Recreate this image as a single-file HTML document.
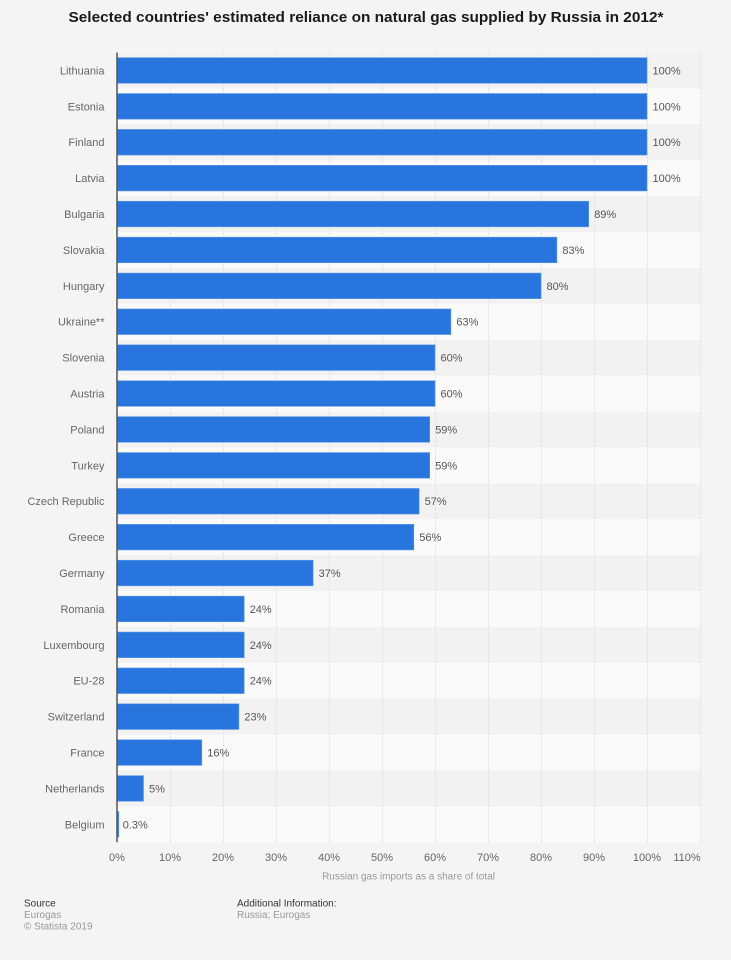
<!DOCTYPE html>
<html><head><meta charset="utf-8"><style>
html,body{margin:0;padding:0;background:#f4f4f4;}
svg{display:block;font-family:"Liberation Sans",Arial,sans-serif;}
</style></head><body>
<svg width="731" height="960" viewBox="0 0 731 960" xmlns="http://www.w3.org/2000/svg">
<rect width="731" height="960" fill="#f4f4f4"/>
<text x="366" y="22" text-anchor="middle" font-size="14.5" font-weight="bold" fill="#1a1a1a" textLength="595" lengthAdjust="spacingAndGlyphs">Selected countries' estimated reliance on natural gas supplied by Russia in 2012*</text>
<!-- bands -->
<g>
<rect x="117" y="52.5" width="584" height="35.9" fill="#f2f2f2"/>
<rect x="117" y="88.4" width="584" height="35.9" fill="#fafafa"/>
<rect x="117" y="124.3" width="584" height="35.9" fill="#f2f2f2"/>
<rect x="117" y="160.2" width="584" height="35.9" fill="#fafafa"/>
<rect x="117" y="196.1" width="584" height="35.9" fill="#f2f2f2"/>
<rect x="117" y="232.0" width="584" height="35.9" fill="#fafafa"/>
<rect x="117" y="267.9" width="584" height="35.9" fill="#f2f2f2"/>
<rect x="117" y="303.8" width="584" height="35.9" fill="#fafafa"/>
<rect x="117" y="339.7" width="584" height="35.9" fill="#f2f2f2"/>
<rect x="117" y="375.6" width="584" height="35.9" fill="#fafafa"/>
<rect x="117" y="411.5" width="584" height="35.9" fill="#f2f2f2"/>
<rect x="117" y="447.4" width="584" height="35.9" fill="#fafafa"/>
<rect x="117" y="483.3" width="584" height="35.9" fill="#f2f2f2"/>
<rect x="117" y="519.2" width="584" height="35.9" fill="#fafafa"/>
<rect x="117" y="555.1" width="584" height="35.9" fill="#f2f2f2"/>
<rect x="117" y="591.0" width="584" height="35.9" fill="#fafafa"/>
<rect x="117" y="626.9" width="584" height="35.9" fill="#f2f2f2"/>
<rect x="117" y="662.8" width="584" height="35.9" fill="#fafafa"/>
<rect x="117" y="698.7" width="584" height="35.9" fill="#f2f2f2"/>
<rect x="117" y="734.6" width="584" height="35.9" fill="#fafafa"/>
<rect x="117" y="770.5" width="584" height="35.9" fill="#f2f2f2"/>
<rect x="117" y="806.4" width="584" height="35.9" fill="#fafafa"/>
</g>
<!-- gridlines -->
<g stroke="#dcdcdc" stroke-width="1" stroke-dasharray="2,2">
<line x1="170.5" y1="52.5" x2="170.5" y2="842.3"/>
<line x1="223.5" y1="52.5" x2="223.5" y2="842.3"/>
<line x1="276.5" y1="52.5" x2="276.5" y2="842.3"/>
<line x1="329.5" y1="52.5" x2="329.5" y2="842.3"/>
<line x1="382.5" y1="52.5" x2="382.5" y2="842.3"/>
<line x1="435.5" y1="52.5" x2="435.5" y2="842.3"/>
<line x1="488.5" y1="52.5" x2="488.5" y2="842.3"/>
<line x1="541.5" y1="52.5" x2="541.5" y2="842.3"/>
<line x1="594.5" y1="52.5" x2="594.5" y2="842.3"/>
<line x1="647.5" y1="52.5" x2="647.5" y2="842.3"/>
<line x1="700.5" y1="52.5" x2="700.5" y2="842.3"/>
</g>
<!-- bars -->
<g fill="#2876dd" stroke="#5d98e6" stroke-width="0.6">
<rect x="117" y="57.65" width="530" height="25.6"/>
<rect x="117" y="93.55" width="530" height="25.6"/>
<rect x="117" y="129.45" width="530" height="25.6"/>
<rect x="117" y="165.35" width="530" height="25.6"/>
<rect x="117" y="201.25" width="471.7" height="25.6"/>
<rect x="117" y="237.15" width="439.9" height="25.6"/>
<rect x="117" y="273.05" width="424" height="25.6"/>
<rect x="117" y="308.95" width="333.9" height="25.6"/>
<rect x="117" y="344.85" width="318" height="25.6"/>
<rect x="117" y="380.75" width="318" height="25.6"/>
<rect x="117" y="416.65" width="312.7" height="25.6"/>
<rect x="117" y="452.55" width="312.7" height="25.6"/>
<rect x="117" y="488.45" width="302.1" height="25.6"/>
<rect x="117" y="524.35" width="296.8" height="25.6"/>
<rect x="117" y="560.25" width="196.1" height="25.6"/>
<rect x="117" y="596.15" width="127.2" height="25.6"/>
<rect x="117" y="632.05" width="127.2" height="25.6"/>
<rect x="117" y="667.95" width="127.2" height="25.6"/>
<rect x="117" y="703.85" width="121.9" height="25.6"/>
<rect x="117" y="739.75" width="84.8" height="25.6"/>
<rect x="117" y="775.65" width="26.5" height="25.6"/>
<rect x="117" y="811.55" width="1.8" height="25.6"/>
</g>
<!-- axis line -->
<line x1="117" y1="52.5" x2="117" y2="842.3" stroke="#555" stroke-width="1.5"/>
<!-- category labels -->
<g font-size="11" fill="#666" text-anchor="end">
<text x="104.5" y="74.4">Lithuania</text>
<text x="104.5" y="110.3">Estonia</text>
<text x="104.5" y="146.2">Finland</text>
<text x="104.5" y="182.1">Latvia</text>
<text x="104.5" y="218">Bulgaria</text>
<text x="104.5" y="253.9">Slovakia</text>
<text x="104.5" y="289.8">Hungary</text>
<text x="104.5" y="325.7">Ukraine**</text>
<text x="104.5" y="361.6">Slovenia</text>
<text x="104.5" y="397.5">Austria</text>
<text x="104.5" y="433.4">Poland</text>
<text x="104.5" y="469.3">Turkey</text>
<text x="104.5" y="505.2">Czech Republic</text>
<text x="104.5" y="541.1">Greece</text>
<text x="104.5" y="577">Germany</text>
<text x="104.5" y="612.9">Romania</text>
<text x="104.5" y="648.8">Luxembourg</text>
<text x="104.5" y="684.7">EU-28</text>
<text x="104.5" y="720.6">Switzerland</text>
<text x="104.5" y="756.5">France</text>
<text x="104.5" y="792.4">Netherlands</text>
<text x="104.5" y="828.3">Belgium</text>
</g>
<!-- value labels -->
<g font-size="11" fill="#555">
<text x="652.5" y="74.4">100%</text>
<text x="652.5" y="110.3">100%</text>
<text x="652.5" y="146.2">100%</text>
<text x="652.5" y="182.1">100%</text>
<text x="594.2" y="218">89%</text>
<text x="562.4" y="253.9">83%</text>
<text x="546.5" y="289.8">80%</text>
<text x="456.4" y="325.7">63%</text>
<text x="440.5" y="361.6">60%</text>
<text x="440.5" y="397.5">60%</text>
<text x="435.2" y="433.4">59%</text>
<text x="435.2" y="469.3">59%</text>
<text x="424.6" y="505.2">57%</text>
<text x="419.3" y="541.1">56%</text>
<text x="318.6" y="577">37%</text>
<text x="249.7" y="612.9">24%</text>
<text x="249.7" y="648.8">24%</text>
<text x="249.7" y="684.7">24%</text>
<text x="244.4" y="720.6">23%</text>
<text x="207.3" y="756.5">16%</text>
<text x="149" y="792.4">5%</text>
<text x="122.7" y="828.3">0.3%</text>
</g>
<!-- x tick labels -->
<g font-size="11" fill="#666" text-anchor="middle">
<text x="117" y="861">0%</text>
<text x="170" y="861">10%</text>
<text x="223" y="861">20%</text>
<text x="276" y="861">30%</text>
<text x="329" y="861">40%</text>
<text x="382" y="861">50%</text>
<text x="435" y="861">60%</text>
<text x="488" y="861">70%</text>
<text x="541" y="861">80%</text>
<text x="594" y="861">90%</text>
<text x="647" y="861">100%</text>
<text x="687" y="861">110%</text>
</g>
<text x="408.5" y="879.5" text-anchor="middle" font-size="10" fill="#999">Russian gas imports as a share of total</text>
<!-- footer -->
<g font-size="10">
<text x="24" y="906.5" fill="#333">Source</text>
<text x="24" y="918" fill="#999">Eurogas</text>
<text x="24" y="929.5" fill="#999">© Statista 2019</text>
<text x="237" y="906.5" fill="#333">Additional Information:</text>
<text x="237" y="918" fill="#999">Russia; Eurogas</text>
</g>
</svg>
</body></html>
